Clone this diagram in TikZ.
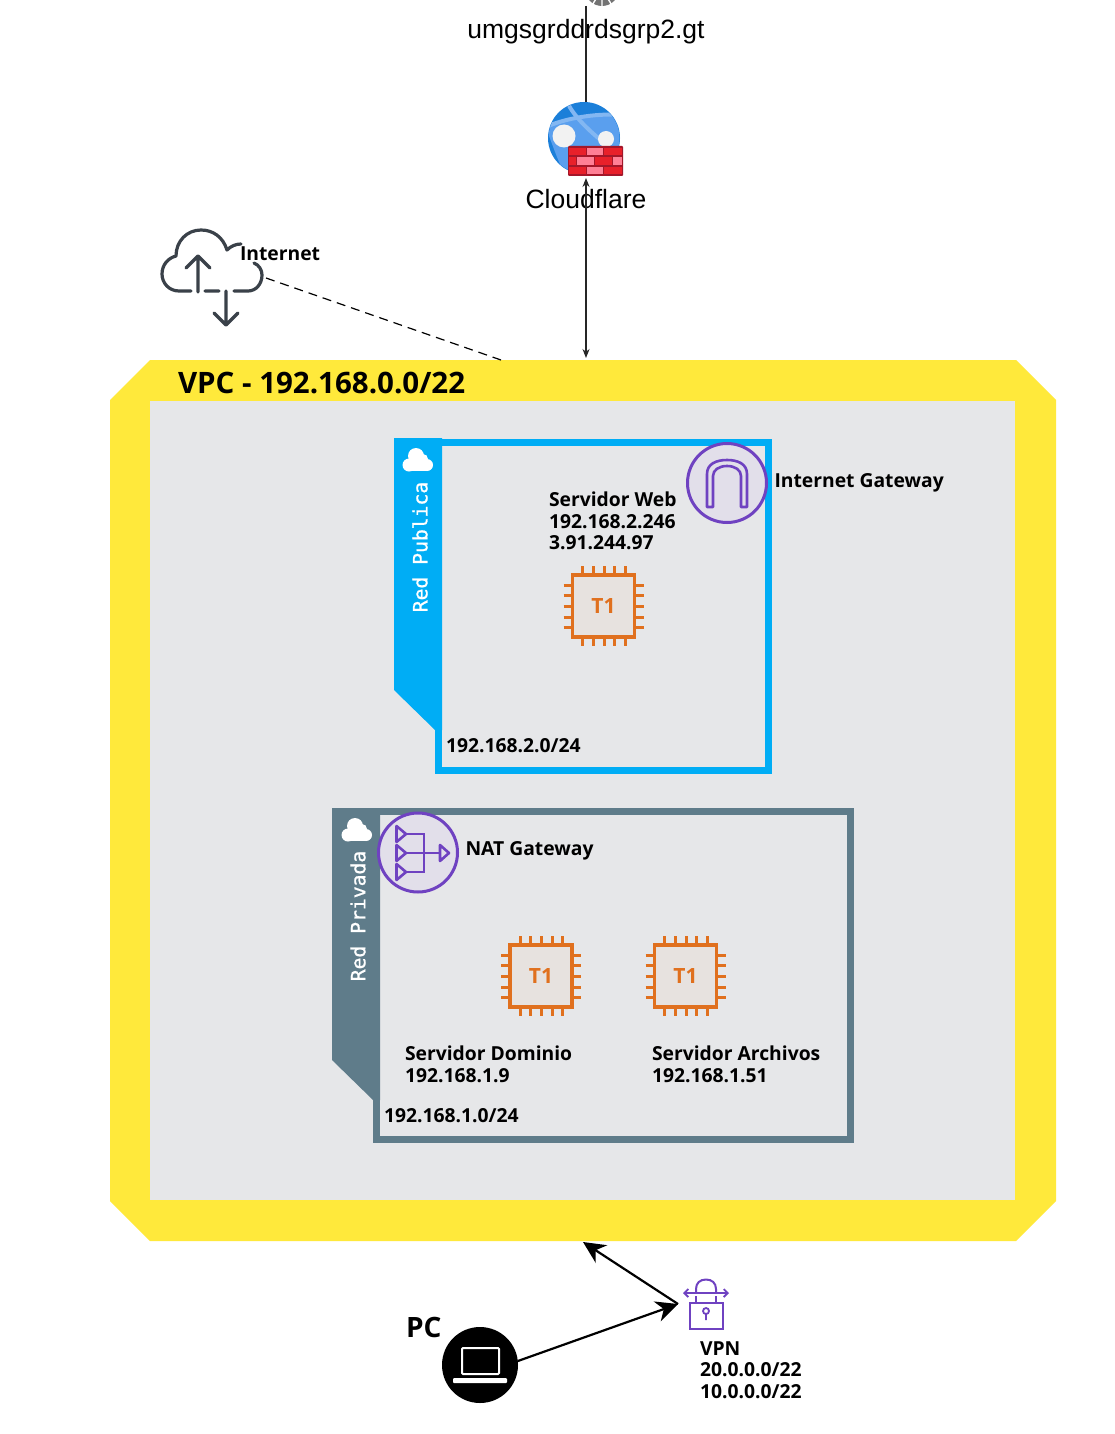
\documentclass[tikz,border=0pt]{standalone}
\usepackage{fontspec}
\setmainfont{Open Sans}
\newfontfamily\arialfont{Liberation Sans}
\newfontfamily\monofont[FakeBold=1]{DejaVu Sans Mono}
\usepackage{xcolor}
\usetikzlibrary{positioning, arrows.meta, calc}

\definecolor{vpcyellow}{HTML}{FFE93B}
\definecolor{vpcgray}{HTML}{E6E7E9}
\definecolor{pubblue}{HTML}{00ADF5}
\definecolor{privslate}{HTML}{5F7C8A}
\definecolor{awspurple}{HTML}{6F42C1}
\definecolor{gatefill}{HTML}{E2DFEA}
\definecolor{chiporange}{HTML}{E0701E}
\definecolor{chipfill}{HTML}{E7E2DF}
\definecolor{cloudgray}{HTML}{3A4149}
\definecolor{globedark}{HTML}{1B7FD9}
\definecolor{globelight}{HTML}{5A9FEE}
\definecolor{globeband}{HTML}{83B7F2}
\definecolor{brickedge}{HTML}{A3172A}
\definecolor{brickred}{HTML}{E8202A}
\definecolor{brickpink}{HTML}{FF7F95}

\begin{document}
\begin{tikzpicture}[
			x=1pt, y=-1pt,
			every node/.style={inner sep=0pt, outer sep=0pt},
			subnet/.style={rectangle, draw, line width=7pt, fill=vpcgray},
			nettab/.style={font=\monofont\fontsize{19.7}{22}\selectfont, text=white, rotate=90},
			info/.style={font=\bfseries\fontsize{19.3}{21.7}\selectfont, align=left, text=black},
			gateway/.style={circle, draw=awspurple, line width=3pt, fill=gatefill, minimum size=79pt},
			brand/.style={font=\arialfont\fontsize{26.5}{30}\selectfont},
			arrow/.style={line width=1.2pt, draw=black!85},
			bigarrow/.style={line width=2.2pt, -{Stealth[length=22pt, width=21pt, inset=7pt]}},
			minicloud/.pic={
				\fill[white] (-9,5) circle[radius=6.5];
				\fill[white] (9,5) circle[radius=6];
				\fill[white] (-2,-4) circle[radius=8];
				\fill[white] (5,-1) circle[radius=5];
				\fill[white] (-9,0) rectangle (9,11);
			},
			chip/.pic={
				\foreach \k in {-2,...,2} {
					\draw[chiporange, line width=3pt] (\k*10.6+0.5,-40) -- (\k*10.6+0.5,40);
					\draw[chiporange, line width=3pt] (-40,\k*10.6+0.5) -- (40,\k*10.6+0.5);
				}
				\node[rectangle, draw=chiporange, line width=3.2pt, fill=chipfill, minimum size=62pt, text=chiporange, font=\bfseries\fontsize{21}{21}\selectfont] (-body) {T1};
			}
			]
			
			\useasboundingbox (0,0) rectangle (1114,1434);
			\fill[white] (0,0) rectangle (1114,1434);
			
			% VPC
			\fill[vpcyellow] (150,360) -- (1016,360) -- (1056,400) -- (1056,1201) -- (1016,1241) -- (150,1241) -- (110,1201) -- (110,400) -- cycle;
			\node[rectangle, fill=vpcgray, minimum width=865pt, minimum height=799pt] (vpcinner) at (582.5,800.5) {};
			\node[font=\bfseries\fontsize{29.5}{32}\selectfont, anchor=west] (vpclabel) at (178,383) {VPC - 192.168.0.0/22};
			
			% Subnets
			\node[subnet, draw=pubblue, minimum width=329.5pt, minimum height=328.5pt] (pubnet) at (603.25,606.25) {};
			\fill[pubblue] (394,438) -- (442,438) -- (442,730) -- (435,730) -- (394,690) -- cycle;
			\pic at (418,460) {minicloud};
			\node[nettab] (publabel) at (420,547) {Red Publica};
			\node[info, anchor=west] (pubcidr) at (446,746) {192.168.2.0/24};
			
			\node[subnet, draw=privslate, minimum width=474pt, minimum height=328pt] (privnet) at (613.5,975.5) {};
			\fill[privslate] (332,808) -- (380,808) -- (380,1100) -- (373,1100) -- (332,1060) -- cycle;
			\pic at (357,830) {minicloud};
			\node[nettab] (privlabel) at (358,916) {Red Privada};
			\node[info, anchor=west] (privcidr) at (384,1116) {192.168.1.0/24};
			
			% Servers
			\pic (web) at (603.5,606) {chip};
			\pic (dominio) at (541,976) {chip};
			\pic (archivos) at (685.5,976) {chip};
			\node[info, anchor=west] (weblabel) at (549,521) {Servidor Web\\192.168.2.246\\3.91.244.97};
			\node[info, anchor=west] (dominiolabel) at (405,1064.5) {Servidor Dominio\\192.168.1.9};
			\node[info, anchor=west] (archivoslabel) at (652,1064.5) {Servidor Archivos\\192.168.1.51};
			
			% Gateways
			\node[gateway] (igw) at (727,483) {};
			\draw[awspurple, line width=2.6pt, line join=round] (707,507) -- (707,474) .. controls (707,464) and (716,460) .. (727,460) .. controls (738,460) and (747,464) .. (747,474) -- (747,507) -- (741,507) -- (741,476) .. controls (741,470) and (735,466) .. (727,466) .. controls (719,466) and (713,470) .. (713,476) -- (713,507) -- cycle;
			\node[info, right=8pt of igw] (igwlabel) {Internet Gateway};
			
			\node[gateway] (nat) at (418,852.5) {};
			\foreach \ty in {834,853,872} {
				\draw[awspurple, line width=2.6pt, line join=round] (396.5,\ty-8) -- (406,\ty) -- (396.5,\ty+8) -- cycle;
			}
			\draw[awspurple, line width=2.6pt] (406,834) -- (424,834) -- (424,872) -- (406,872) (406,853) -- (440,853);
			\draw[awspurple, line width=2.6pt, line join=round] (440,845) -- (449,853) -- (440,861) -- cycle;
			\node[info, right=8pt of nat, yshift=2pt] (natlabel) {NAT Gateway};
			
			% Top of the picture
			\node[circle, fill=black!55, minimum size=34pt] (dns) at (602,-11) {};
			\draw[white, line width=1.4pt] (dns.center) -- (591,7) (dns.center) -- (602,7) (dns.center) -- (613,7);
			\coordinate (dnsout) at (586,6);
			\coordinate (wafin) at (586,110);
			\node[brand] (dnslabel) at (586,32) {umgsgrddrdsgrp2.gt};
			\draw[arrow] (dnsout) -- (wafin);
			
			% Cloudflare
			\node[circle, fill=globedark, minimum size=72pt] (globe) at (584,138) {};
			\begin{scope}
				\clip (584,138) circle[radius=35.5];
				\fill[globelight] (545,126) .. controls (570,117) and (600,113) .. (625,115) -- (625,180) -- (570,180) .. controls (560,170) and (555,150) .. (545,126) -- cycle;
				\draw[globeband, line width=4pt] (566,100) .. controls (575,120) and (595,135) .. (612,150);
				\draw[globeband, line width=4pt] (548,126) .. controls (570,117) and (600,113) .. (625,115);
			\end{scope}
			\fill[black!5] (564,136) circle[radius=11.5];
			\fill[black!5] (606,139) circle[radius=8];
			\node[rectangle, fill=brickedge, minimum width=55pt, minimum height=30pt, rounded corners=1pt] (firewall) at (595.5,161) {};
			\foreach \bx/\bw/\by/\bc in {569/17/148/brickred, 587/16/148/brickpink, 604/18/148/brickred, 569/7/157.5/brickred, 577/17/157.5/brickpink, 595/17/157.5/brickred, 613/9/157.5/brickpink, 569/17/167/brickred, 587/16/167/brickpink, 604/18/167/brickred} {
				\fill[\bc] (\bx,\by) rectangle ++(\bw,7.5);
			}
			\node[brand] (waflabel) at (586,199.5) {Cloudflare};
			\coordinate (wafout) at (586,178);
			\coordinate (vpctop) at (586,358);
			
			% Internet
			\draw[cloudgray, line width=3.2pt, line cap=round, line join=round] (191,291) -- (179,291) .. controls (169,291) and (162,283) .. (162,274) .. controls (162,265) and (168,258) .. (176,256) .. controls (176,241) and (187,230) .. (201,230) .. controls (213,230) and (223,237) .. (227,250) .. controls (231,246) and (236,244) .. (241,244) (254,263) .. controls (259,265) and (262,270) .. (262,275) .. controls (262,284) and (256,291) .. (248,291) -- (234,291) (205,291) -- (219,291);
			\draw[cloudgray, line width=3.2pt, line cap=round, line join=round] (198,292) -- (198,256) (186,268) -- (198,256) -- (210,268);
			\draw[cloudgray, line width=3.2pt, line cap=round, line join=round] (226,291) -- (226,325) (214,313) -- (226,325) -- (238,313);
			\node[info, anchor=west] (inetlabel) at (240,254) {Internet};
			\coordinate (inetout) at (266,278);
			\coordinate (vpcedge) at (501,360);
			
			% VPN
			\draw[awspurple, line width=2pt] (696,1293) -- (696,1289) .. controls (696,1283) and (700,1279.5) .. (706,1279.5) .. controls (712,1279.5) and (716,1283) .. (716,1289) -- (716,1293);
			\draw[awspurple, line width=1.8pt] (696,1296) -- (696,1302) (716,1296) -- (716,1302);
			\draw[awspurple, line width=1.8pt, {Straight Barb[length=4pt, width=8pt]}-{Straight Barb[length=4pt, width=8pt]}] (683,1293) -- (729,1293);
			\node[rectangle, draw=awspurple, line width=2pt, minimum width=33pt, minimum height=26pt] (vpn) at (706,1316) {};
			\draw[awspurple, line width=1.8pt] (706,1311) circle[radius=3] (706,1314) -- (706,1320);
			\node[info, anchor=west] (vpnlabel) at (700,1370) {VPN\\20.0.0.0/22\\10.0.0.0/22};
			\coordinate (vpnin) at (678,1304);
			\coordinate (vpcbottom) at (583,1242);
			
			% PC
			\node[circle, fill=black, minimum size=76pt] (pc) at (480,1365) {};
			\node[rectangle, draw=white, line width=2pt, rounded corners=1pt, minimum width=37pt, minimum height=26pt] (screen) at (480.5,1361) {};
			\node[rectangle, fill=white, rounded corners=1pt, minimum width=54pt, minimum height=5pt] (laptop) at (480,1380.5) {};
			\node[font=\bfseries\fontsize{28}{30}\selectfont, anchor=west] (pclabel) at (406,1327) {PC};
			
			% Arrows
			\draw[arrow, {Stealth[length=9pt, width=7pt]}-{Stealth[length=9pt, width=7pt]}] (wafout) -- (vpctop);
			\draw[line width=1.2pt, dash pattern=on 9pt off 6pt] (inetout) -- (vpcedge);
			\draw[bigarrow] (pc.6) -- (vpnin);
			\draw[bigarrow] (vpnin) -- (vpcbottom);
			
		\end{tikzpicture}
\end{document}
